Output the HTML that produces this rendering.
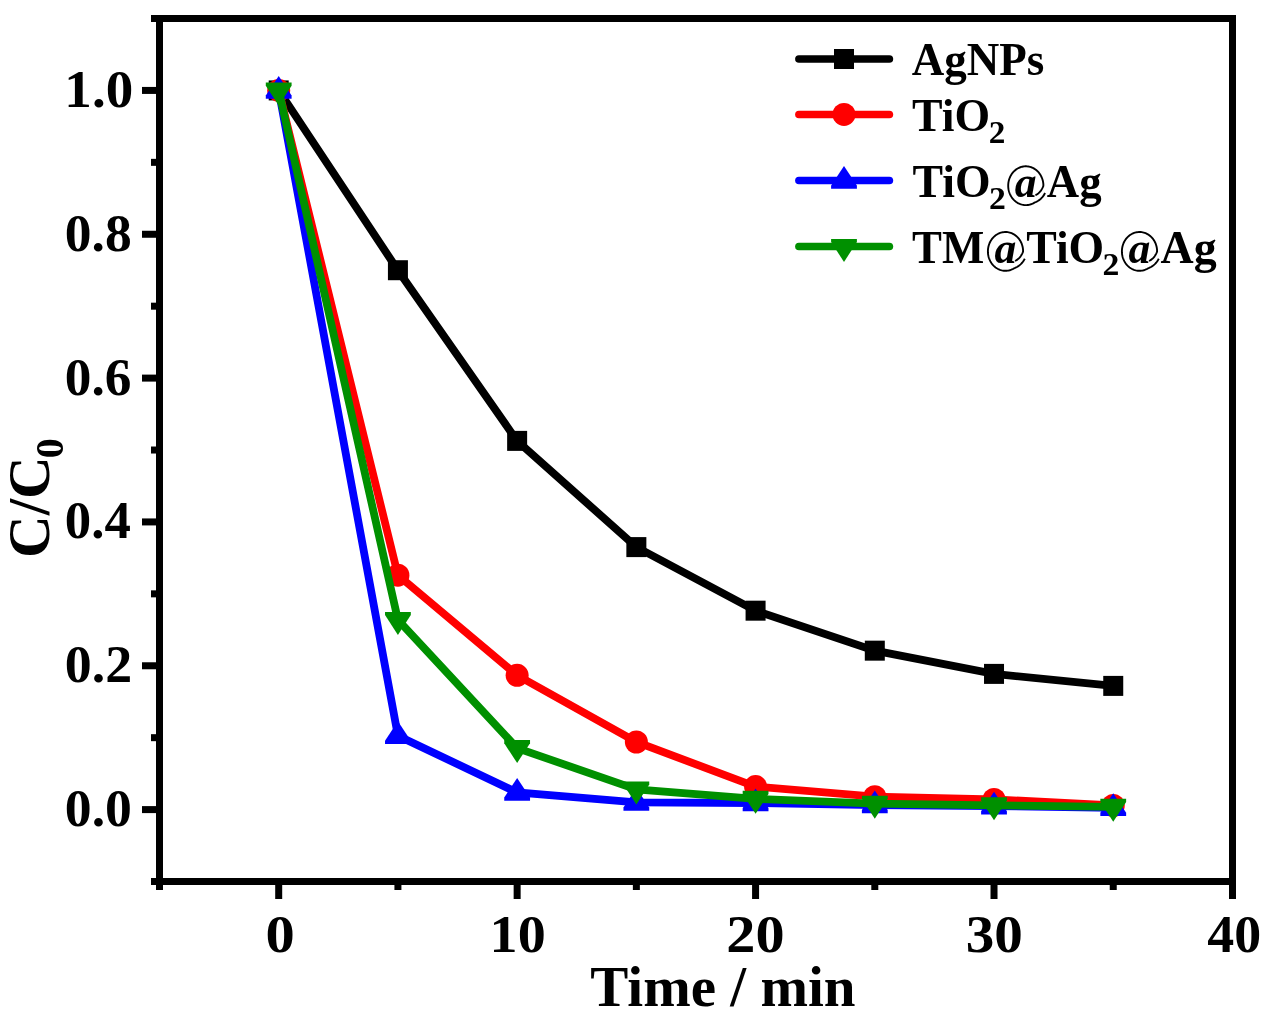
<!DOCTYPE html><html><head><meta charset="utf-8"><style>html,body{margin:0;padding:0;background:#fff;}svg{display:block;}text{font-family:"Liberation Serif",serif;font-weight:bold;fill:#000;}</style></head><body>
<svg width="1272" height="1020" viewBox="0 0 1272 1020">
<defs><filter id="gs" x="0" y="0" width="1272" height="1020" filterUnits="userSpaceOnUse"><feColorMatrix type="saturate" values="0"/></filter></defs>
<rect width="1272" height="1020" fill="#fff"/>
<polyline points="278.70,90.43 397.92,270.22 517.14,440.88 636.36,547.10 755.58,610.68 874.80,650.66 994.02,673.89 1113.24,685.90" fill="none" stroke="#000" stroke-width="7.8" stroke-linejoin="miter"/>
<rect x="268.70" y="80.43" width="20" height="20" fill="#000"/>
<rect x="387.92" y="260.22" width="20" height="20" fill="#000"/>
<rect x="507.14" y="430.88" width="20" height="20" fill="#000"/>
<rect x="626.36" y="537.10" width="20" height="20" fill="#000"/>
<rect x="745.58" y="600.68" width="20" height="20" fill="#000"/>
<rect x="864.80" y="640.66" width="20" height="20" fill="#000"/>
<rect x="984.02" y="663.89" width="20" height="20" fill="#000"/>
<rect x="1103.24" y="675.90" width="20" height="20" fill="#000"/>
<polyline points="278.70,90.43 397.92,575.15 517.14,675.33 636.36,742.00 755.58,786.59 874.80,796.65 994.02,799.39 1113.24,805.50" fill="none" stroke="#f00" stroke-width="7.8" stroke-linejoin="miter"/>
<circle cx="278.70" cy="90.43" r="11.5" fill="#f00"/>
<circle cx="397.92" cy="575.15" r="11.5" fill="#f00"/>
<circle cx="517.14" cy="675.33" r="11.5" fill="#f00"/>
<circle cx="636.36" cy="742.00" r="11.5" fill="#f00"/>
<circle cx="755.58" cy="786.59" r="11.5" fill="#f00"/>
<circle cx="874.80" cy="796.65" r="11.5" fill="#f00"/>
<circle cx="994.02" cy="799.39" r="11.5" fill="#f00"/>
<circle cx="1113.24" cy="805.50" r="11.5" fill="#f00"/>
<polyline points="278.70,90.43 397.92,735.81 517.14,792.48 636.36,802.41 755.58,802.98 874.80,805.00 994.02,806.15 1113.24,807.73" fill="none" stroke="#00f" stroke-width="7.8" stroke-linejoin="miter"/>
<path d="M278.70 75.93L291.60 95.43L291.60 98.73L265.80 98.73L265.80 95.43Z" fill="#00f"/>
<path d="M397.92 721.31L410.82 740.81L410.82 744.11L385.02 744.11L385.02 740.81Z" fill="#00f"/>
<path d="M517.14 777.98L530.04 797.48L530.04 800.78L504.24 800.78L504.24 797.48Z" fill="#00f"/>
<path d="M636.36 787.91L649.26 807.41L649.26 810.71L623.46 810.71L623.46 807.41Z" fill="#00f"/>
<path d="M755.58 788.48L768.48 807.98L768.48 811.28L742.68 811.28L742.68 807.98Z" fill="#00f"/>
<path d="M874.80 790.50L887.70 810.00L887.70 813.30L861.90 813.30L861.90 810.00Z" fill="#00f"/>
<path d="M994.02 791.65L1006.92 811.15L1006.92 814.45L981.12 814.45L981.12 811.15Z" fill="#00f"/>
<path d="M1113.24 793.23L1126.14 812.73L1126.14 816.03L1100.34 816.03L1100.34 812.73Z" fill="#00f"/>
<polyline points="278.70,90.43 397.92,619.88 517.14,748.11 636.36,789.39 755.58,798.81 874.80,803.63 994.02,805.28 1113.24,806.80" fill="none" stroke="#009000" stroke-width="7.8" stroke-linejoin="miter"/>
<path d="M278.70 105.43L291.60 85.63L291.60 82.43L265.80 82.43L265.80 85.63Z" fill="#009000"/>
<path d="M397.92 634.88L410.82 615.08L410.82 611.88L385.02 611.88L385.02 615.08Z" fill="#009000"/>
<path d="M517.14 763.11L530.04 743.31L530.04 740.11L504.24 740.11L504.24 743.31Z" fill="#009000"/>
<path d="M636.36 804.39L649.26 784.59L649.26 781.39L623.46 781.39L623.46 784.59Z" fill="#009000"/>
<path d="M755.58 813.81L768.48 794.01L768.48 790.81L742.68 790.81L742.68 794.01Z" fill="#009000"/>
<path d="M874.80 818.63L887.70 798.83L887.70 795.63L861.90 795.63L861.90 798.83Z" fill="#009000"/>
<path d="M994.02 820.28L1006.92 800.48L1006.92 797.28L981.12 797.28L981.12 800.48Z" fill="#009000"/>
<path d="M1113.24 821.80L1126.14 802.00L1126.14 798.80L1100.34 798.80L1100.34 802.00Z" fill="#009000"/>
<g fill="#000">
<rect x="151" y="15" width="1085" height="7"/>
<rect x="151" y="878" width="1085" height="7"/>
<rect x="156" y="15" width="7" height="875"/>
<rect x="1229" y="15" width="7" height="884"/>
<rect x="142" y="806.10" width="14" height="7"/>
<rect x="151" y="734.18" width="5" height="7"/>
<rect x="142" y="662.27" width="14" height="7"/>
<rect x="151" y="590.35" width="5" height="7"/>
<rect x="142" y="518.43" width="14" height="7"/>
<rect x="151" y="446.52" width="5" height="7"/>
<rect x="142" y="374.60" width="14" height="7"/>
<rect x="151" y="302.68" width="5" height="7"/>
<rect x="142" y="230.76" width="14" height="7"/>
<rect x="151" y="158.85" width="5" height="7"/>
<rect x="142" y="86.93" width="14" height="7"/>
<rect x="275.20" y="885" width="7" height="14"/>
<rect x="394.42" y="885" width="7" height="5"/>
<rect x="513.64" y="885" width="7" height="14"/>
<rect x="632.86" y="885" width="7" height="5"/>
<rect x="752.08" y="885" width="7" height="14"/>
<rect x="871.30" y="885" width="7" height="5"/>
<rect x="990.52" y="885" width="7" height="14"/>
<rect x="1109.74" y="885" width="7" height="5"/>
</g>
<g filter="url(#gs)">
<text x="64.86" y="826.10" font-size="52" textLength="67.09" lengthAdjust="spacingAndGlyphs">0.0</text>
<text x="64.85" y="682.27" font-size="52" textLength="67.37" lengthAdjust="spacingAndGlyphs">0.2</text>
<text x="64.89" y="538.43" font-size="52" textLength="65.99" lengthAdjust="spacingAndGlyphs">0.4</text>
<text x="64.87" y="394.60" font-size="52" textLength="66.59" lengthAdjust="spacingAndGlyphs">0.6</text>
<text x="64.86" y="250.76" font-size="52" textLength="66.81" lengthAdjust="spacingAndGlyphs">0.8</text>
<text x="64.39" y="106.83" font-size="52" textLength="68.80" lengthAdjust="spacingAndGlyphs">1.0</text>
<text x="265.47" y="951.50" font-size="52" textLength="29.26" lengthAdjust="spacingAndGlyphs">0</text>
<text x="489.60" y="951.50" font-size="52" textLength="56.13" lengthAdjust="spacingAndGlyphs">10</text>
<text x="726.35" y="951.50" font-size="52" textLength="58.27" lengthAdjust="spacingAndGlyphs">20</text>
<text x="965.65" y="951.50" font-size="52" textLength="57.12" lengthAdjust="spacingAndGlyphs">30</text>
<text x="1207.26" y="951.50" font-size="52" textLength="53.89" lengthAdjust="spacingAndGlyphs">40</text>
<text x="590.31" y="1005.80" font-size="57.5" textLength="265.25" lengthAdjust="spacingAndGlyphs">Time / min</text>
<g transform="translate(48.5,555) rotate(-90)">
<text x="-2.88" y="0.00" font-size="59.4" textLength="101.46" lengthAdjust="spacingAndGlyphs">C/C</text>
</g>
<g transform="translate(62.8,456.8) rotate(-90)">
<text x="-1.52" y="0.00" font-size="39.6" textLength="19.94" lengthAdjust="spacingAndGlyphs">0</text>
</g>
</g>
<line x1="798.9" y1="59.0" x2="889.4" y2="59.0" stroke="#000" stroke-width="7.6" stroke-linecap="round"/>
<rect x="834.00" y="49.00" width="20" height="20" fill="#000"/>
<line x1="798.9" y1="114.5" x2="889.4" y2="114.5" stroke="#f00" stroke-width="7.6" stroke-linecap="round"/>
<circle cx="844.00" cy="114.40" r="11.5" fill="#f00"/>
<line x1="798.9" y1="180.5" x2="889.4" y2="180.5" stroke="#00f" stroke-width="7.6" stroke-linecap="round"/>
<path d="M844.00 166.00L856.90 185.50L856.90 188.80L831.10 188.80L831.10 185.50Z" fill="#00f"/>
<line x1="798.9" y1="246.5" x2="889.4" y2="246.5" stroke="#009000" stroke-width="7.6" stroke-linecap="round"/>
<path d="M844.00 261.90L856.90 242.10L856.90 238.90L831.10 238.90L831.10 242.10Z" fill="#009000"/>
<g filter="url(#gs)">
<text x="911.66" y="74.90" font-size="47" textLength="132.64" lengthAdjust="spacingAndGlyphs">AgNPs</text>
<text x="912.09" y="130.70" font-size="47" textLength="78.12" lengthAdjust="spacingAndGlyphs">TiO</text>
<text x="988.80" y="142.80" font-size="31.4" textLength="16.62" lengthAdjust="spacingAndGlyphs">2</text>
<text x="912.49" y="197.10" font-size="47" textLength="78.02" lengthAdjust="spacingAndGlyphs">TiO</text>
<text x="988.98" y="208.50" font-size="31.4" textLength="16.87" lengthAdjust="spacingAndGlyphs">2</text>
<polyline points="1035.35,195.18 1036.09,194.83 1036.83,194.41 1037.56,193.93 1038.27,193.39 1038.97,192.79 1039.64,192.13 1040.28,191.40 1040.89,190.62 1041.47,189.77 1042.00,188.88 1042.50,187.92 1042.95,186.92 1043.34,185.87 1043.38,184.79 1043.31,183.71 1043.18,182.64 1043.00,181.58 1042.76,180.53 1042.48,179.50 1042.14,178.48 1041.75,177.49 1041.31,176.53 1040.82,175.59 1040.29,174.68 1039.71,173.81 1039.09,172.98 1038.42,172.18 1037.72,171.43 1036.98,170.72 1036.21,170.05 1035.40,169.44 1034.56,168.88 1033.70,168.36 1032.81,167.91 1031.90,167.50 1030.98,167.16 1030.03,166.87 1029.07,166.64 1028.10,166.47 1027.13,166.36 1026.15,166.30 1025.17,166.31 1024.19,166.38 1023.22,166.51 1022.25,166.70 1021.30,166.95 1020.36,167.25 1019.44,167.61 1018.53,168.03 1017.65,168.51 1016.79,169.03 1015.97,169.61 1015.17,170.24 1014.40,170.92 1013.68,171.64 1012.98,172.40 1012.33,173.21 1011.72,174.06 1011.16,174.94 1010.64,175.85 1010.16,176.80 1009.74,177.77 1009.36,178.77 1009.04,179.79 1008.76,180.83 1008.54,181.88 1008.38,182.95 1008.27,184.02 1008.21,185.10 1008.21,186.18 1008.26,187.26 1008.36,188.33 1008.52,189.40 1008.74,190.45 1009.00,191.49 1009.32,192.52 1009.69,193.52 1010.11,194.49 1010.58,195.44 1011.10,196.36 1011.66,197.25 1012.26,198.10 1012.91,198.91 1013.60,199.68 1014.32,200.41 1015.08,201.09 1015.88,201.72 1016.70,202.31 1017.55,202.84 1018.43,203.32 1019.33,203.74 1020.25,204.11 1021.19,204.42 1022.15,204.68 1023.11,204.87 1024.08,205.01 1025.06,205.08 1026.04,205.10 1027.02,205.05 1028.00,204.95 1028.96,204.78 1029.92,204.56 1030.87,204.28 1031.80,203.94 1032.71,203.54 1033.60,203.09 1034.47,202.58 1035.41,202.20 1036.36,201.78 1037.29,201.29 1038.21,200.74 1039.10,200.13 1039.98,199.45 1040.82,198.71 1041.63,197.90 1042.41,197.04 1043.15,196.12 1043.85,195.14 1044.50,194.11 1045.10,193.03" fill="none" stroke="#000" stroke-width="1.9" stroke-linejoin="round"/><text x="1014.79" y="197.10" font-size="43.7" font-style="italic">a</text>
<text x="1046.86" y="197.10" font-size="47" textLength="54.78" lengthAdjust="spacingAndGlyphs">Ag</text>
<text x="912.10" y="262.80" font-size="47" textLength="72.19" lengthAdjust="spacingAndGlyphs">TM</text>
<polyline points="1015.05,260.88 1015.79,260.53 1016.53,260.11 1017.26,259.63 1017.97,259.09 1018.67,258.49 1019.34,257.83 1019.98,257.10 1020.59,256.32 1021.17,255.47 1021.70,254.58 1022.20,253.62 1022.65,252.62 1023.04,251.57 1023.08,250.49 1023.01,249.41 1022.88,248.34 1022.70,247.28 1022.46,246.23 1022.18,245.20 1021.84,244.18 1021.45,243.19 1021.01,242.23 1020.52,241.29 1019.99,240.38 1019.41,239.51 1018.79,238.68 1018.12,237.88 1017.42,237.13 1016.68,236.42 1015.91,235.75 1015.10,235.14 1014.26,234.58 1013.40,234.06 1012.51,233.61 1011.60,233.20 1010.68,232.86 1009.73,232.57 1008.77,232.34 1007.80,232.17 1006.83,232.06 1005.85,232.00 1004.87,232.01 1003.89,232.08 1002.92,232.21 1001.95,232.40 1001.00,232.65 1000.06,232.95 999.14,233.31 998.23,233.73 997.35,234.21 996.49,234.73 995.67,235.31 994.87,235.94 994.10,236.62 993.38,237.34 992.68,238.10 992.03,238.91 991.42,239.76 990.86,240.64 990.34,241.55 989.86,242.50 989.44,243.47 989.06,244.47 988.74,245.49 988.46,246.53 988.24,247.58 988.08,248.65 987.97,249.72 987.91,250.80 987.91,251.88 987.96,252.96 988.06,254.03 988.22,255.10 988.44,256.15 988.70,257.19 989.02,258.22 989.39,259.22 989.81,260.19 990.28,261.14 990.80,262.06 991.36,262.95 991.96,263.80 992.61,264.61 993.30,265.38 994.02,266.11 994.78,266.79 995.58,267.42 996.40,268.01 997.25,268.54 998.13,269.02 999.03,269.44 999.95,269.81 1000.89,270.12 1001.85,270.38 1002.81,270.57 1003.78,270.71 1004.76,270.78 1005.74,270.80 1006.72,270.75 1007.70,270.65 1008.66,270.48 1009.62,270.26 1010.57,269.98 1011.50,269.64 1012.41,269.24 1013.30,268.79 1014.17,268.28 1015.11,267.90 1016.06,267.48 1016.99,266.99 1017.91,266.44 1018.80,265.83 1019.68,265.15 1020.52,264.41 1021.33,263.60 1022.11,262.74 1022.85,261.82 1023.55,260.84 1024.20,259.81 1024.80,258.73" fill="none" stroke="#000" stroke-width="1.9" stroke-linejoin="round"/><text x="994.49" y="262.80" font-size="43.7" font-style="italic">a</text>
<text x="1026.19" y="262.80" font-size="47" textLength="78.02" lengthAdjust="spacingAndGlyphs">TiO</text>
<text x="1102.58" y="274.70" font-size="31.4" textLength="16.87" lengthAdjust="spacingAndGlyphs">2</text>
<polyline points="1149.05,260.88 1149.79,260.53 1150.53,260.11 1151.26,259.63 1151.97,259.09 1152.67,258.49 1153.34,257.83 1153.98,257.10 1154.59,256.32 1155.17,255.47 1155.70,254.58 1156.20,253.62 1156.65,252.62 1157.04,251.57 1157.08,250.49 1157.01,249.41 1156.88,248.34 1156.70,247.28 1156.46,246.23 1156.18,245.20 1155.84,244.18 1155.45,243.19 1155.01,242.23 1154.52,241.29 1153.99,240.38 1153.41,239.51 1152.79,238.68 1152.12,237.88 1151.42,237.13 1150.68,236.42 1149.91,235.75 1149.10,235.14 1148.26,234.58 1147.40,234.06 1146.51,233.61 1145.60,233.20 1144.68,232.86 1143.73,232.57 1142.77,232.34 1141.80,232.17 1140.83,232.06 1139.85,232.00 1138.87,232.01 1137.89,232.08 1136.92,232.21 1135.95,232.40 1135.00,232.65 1134.06,232.95 1133.14,233.31 1132.23,233.73 1131.35,234.21 1130.49,234.73 1129.67,235.31 1128.87,235.94 1128.10,236.62 1127.38,237.34 1126.68,238.10 1126.03,238.91 1125.42,239.76 1124.86,240.64 1124.34,241.55 1123.86,242.50 1123.44,243.47 1123.06,244.47 1122.74,245.49 1122.46,246.53 1122.24,247.58 1122.08,248.65 1121.97,249.72 1121.91,250.80 1121.91,251.88 1121.96,252.96 1122.06,254.03 1122.22,255.10 1122.44,256.15 1122.70,257.19 1123.02,258.22 1123.39,259.22 1123.81,260.19 1124.28,261.14 1124.80,262.06 1125.36,262.95 1125.96,263.80 1126.61,264.61 1127.30,265.38 1128.02,266.11 1128.78,266.79 1129.58,267.42 1130.40,268.01 1131.25,268.54 1132.13,269.02 1133.03,269.44 1133.95,269.81 1134.89,270.12 1135.85,270.38 1136.81,270.57 1137.78,270.71 1138.76,270.78 1139.74,270.80 1140.72,270.75 1141.70,270.65 1142.66,270.48 1143.62,270.26 1144.57,269.98 1145.50,269.64 1146.41,269.24 1147.30,268.79 1148.17,268.28 1149.11,267.90 1150.06,267.48 1150.99,266.99 1151.91,266.44 1152.80,265.83 1153.68,265.15 1154.52,264.41 1155.33,263.60 1156.11,262.74 1156.85,261.82 1157.55,260.84 1158.20,259.81 1158.80,258.73" fill="none" stroke="#000" stroke-width="1.9" stroke-linejoin="round"/><text x="1128.49" y="262.80" font-size="43.7" font-style="italic">a</text>
<text x="1160.55" y="262.80" font-size="47" textLength="56.10" lengthAdjust="spacingAndGlyphs">Ag</text>
</g>
</svg></body></html>
